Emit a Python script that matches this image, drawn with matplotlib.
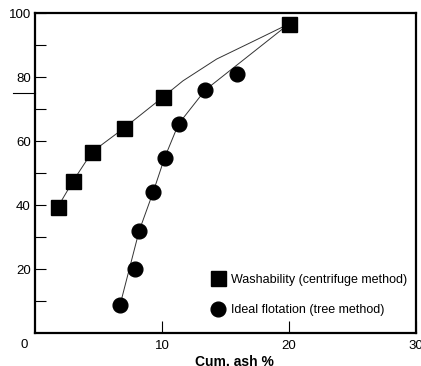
import matplotlib.pyplot as plt
from matplotlib.lines import Line2D

plt.rcParams['font.family'] = ['Liberation Sans', 'DejaVu Sans']

# Washability (centrifuge method) points
wash_ash = [1.8, 3.0, 4.5, 7.0, 10.1, 20.0]
wash_yield = [39.4, 47.5, 56.6, 64.0, 73.8, 96.6]

# Ideal flotation (tree method) points
flot_ash = [6.7, 7.9, 8.2, 9.3, 10.2, 11.3, 13.4, 15.9]
flot_yield = [8.8, 20.0, 31.9, 44.0, 54.7, 65.3, 75.9, 81.0]

# hand fitted curves
wash_fit_ash = [1.8, 3.0, 4.5, 7.0, 10.1, 11.65, 14.3, 16.9, 20.0]
wash_fit_yield = [39.4, 47.5, 56.6, 64.0, 73.8, 78.8, 85.6, 90.6, 96.6]
flot_fit_ash = [6.7, 8.2, 9.3, 10.2, 11.3, 13.4, 20.0]
flot_fit_yield = [8.8, 31.9, 44.0, 54.7, 65.3, 75.9, 96.6]

x_ticks = [10, 20, 30]
y_ticks = [20, 40, 60, 80, 100]

fig = plt.figure(figsize=(4.21, 3.66), dpi=100)
ax = fig.add_axes([35 / 421, 1 - 333 / 366, 381 / 421, 320 / 366])

ax.plot(wash_fit_ash, wash_fit_yield, color='#333333', lw=0.7, zorder=1)
ax.plot(flot_fit_ash, flot_fit_yield, color='#333333', lw=0.7, zorder=1)
ax.plot(wash_ash, wash_yield, ls='none', marker='s', ms=10.8, color='black', zorder=2)
ax.plot(flot_ash, flot_yield, ls='none', marker='o', ms=10.6, color='black', zorder=2)

ax.set_xlim(0, 30)
ax.set_ylim(0, 100)
ax.set_xticks(x_ticks)
ax.set_xticklabels([str(t) for t in x_ticks])
ax.set_yticks(range(10, 101, 10))
ax.set_yticklabels([str(t) if t in y_ticks else '' for t in range(10, 101, 10)])
ax.tick_params(axis='x', direction='in', length=9, width=0.8, pad=5, labelsize=9.5)
ax.tick_params(axis='y', direction='in', length=8, width=0.8, pad=3, labelsize=9.5)
for s in ax.spines.values():
    s.set_linewidth(1.6)
ax.text(-0.029, -0.038, '0', transform=ax.transAxes, ha='center', va='center', fontsize=9.5)
ax.plot([-1.7, 0], [75, 75], color='black', lw=0.8, clip_on=False)

ax.set_xlabel('Cum. ash %', fontweight='bold', fontsize=10)
ax.xaxis.set_label_coords(0.523, -0.07)

handles = [
    Line2D([], [], ls='none', marker='s', ms=10.8, color='black'),
    Line2D([], [], ls='none', marker='o', ms=10.6, color='black'),
]
ax.legend(handles, ['Washability (centrifuge method)', 'Ideal flotation (tree method)'],
          loc='lower left', bbox_to_anchor=(0.45, 0.036), frameon=False, fontsize=9,
          handlelength=1.0, handletextpad=0.55, labelspacing=1.5, borderaxespad=0)

fig.savefig('out.png', dpi=100)
